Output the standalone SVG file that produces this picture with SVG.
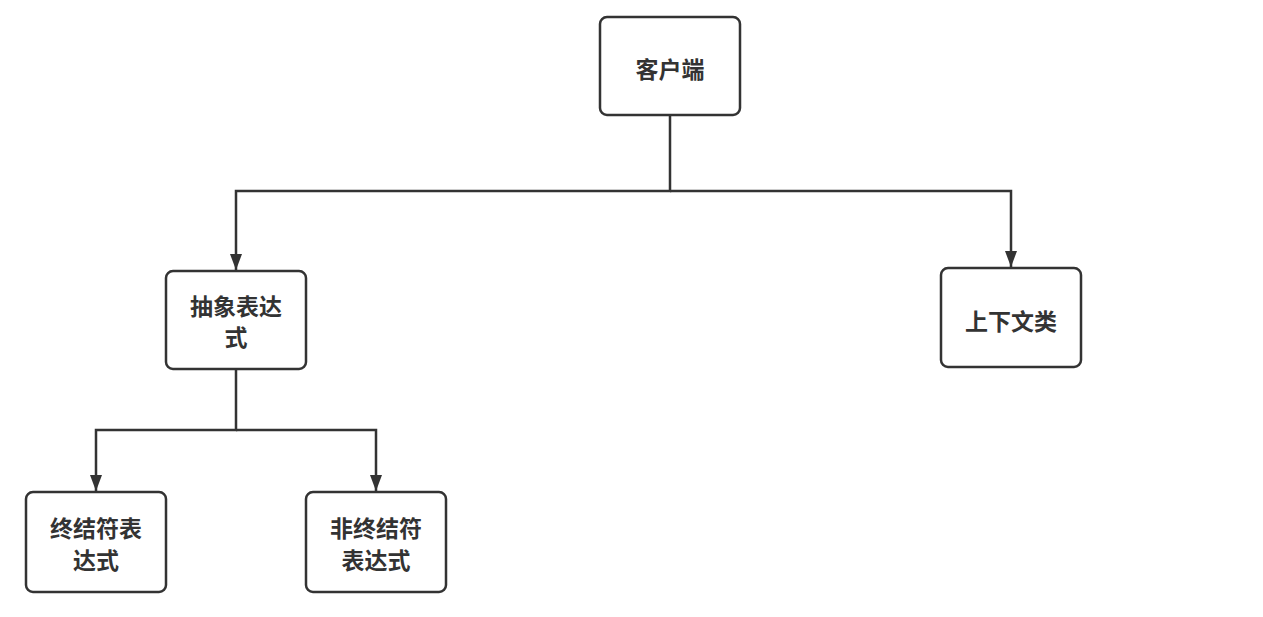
<svg xmlns="http://www.w3.org/2000/svg" width="1263" height="617" viewBox="0 0 1263 617">
<style>
.box{fill:#fff;stroke:#333;stroke-width:2.5}
.lbl{font-family:"Noto Sans CJK SC","Noto Sans",sans-serif;font-size:23px;font-weight:bold;fill:#333;text-anchor:middle;dominant-baseline:central}
.con{fill:none;stroke:#333;stroke-width:2.5}
</style>
<defs>
<marker id="arr" viewBox="0 0 16 12" refX="16" refY="6" markerWidth="16" markerHeight="12" markerUnits="userSpaceOnUse" orient="auto">
<path d="M0,0 L16,6 L0,12 Z" fill="#333"/>
</marker>
</defs>
<rect width="1263" height="617" fill="#fff"/>
<g id="connectors">
<path class="con" d="M670,115 V191 H236 V270" marker-end="url(#arr)"/>
<path class="con" d="M670,191 H1011 V267" marker-end="url(#arr)"/>
<path class="con" d="M236,369 V430 H96 V491" marker-end="url(#arr)"/>
<path class="con" d="M236,430 H376 V491" marker-end="url(#arr)"/>
</g>
<g id="client">
<rect class="box" x="600" y="17" width="140" height="98" rx="7"/>
<text class="lbl" x="670" y="68">客户端</text>
</g>
<g id="abstract">
<rect class="box" x="166" y="271" width="140" height="98" rx="7"/>
<text class="lbl" x="236" y="305"><tspan x="236" y="305">抽象表达</tspan><tspan x="236" y="336">式</tspan></text>
</g>
<g id="context">
<rect class="box" x="941" y="268" width="140" height="99" rx="7"/>
<text class="lbl" x="1011" y="320">上下文类</text>
</g>
<g id="terminal">
<rect class="box" x="26" y="492" width="140" height="100" rx="7"/>
<text class="lbl" x="96" y="527"><tspan x="96" y="527">终结符表</tspan><tspan x="96" y="559">达式</tspan></text>
</g>
<g id="nonterminal">
<rect class="box" x="306" y="492" width="140" height="100" rx="7"/>
<text class="lbl" x="376" y="527"><tspan x="376" y="527">非终结符</tspan><tspan x="376" y="559">表达式</tspan></text>
</g>
</svg>
